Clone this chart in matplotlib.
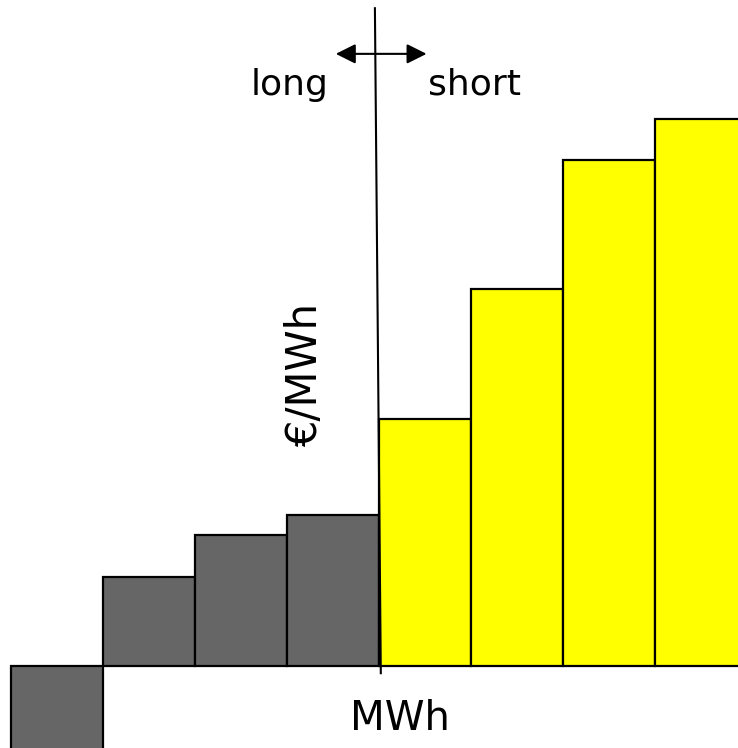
import matplotlib.pyplot as plt

# merit order style steps: long side (grey) and short side (yellow)
long_prices = [-10, 8.9, 13.1, 15.1]
short_prices = [24.7, 37.7, 50.6, 54.7]
grey = '#666666'
yellow = '#ffff00'

fig = plt.figure(figsize=(7.38, 7.48), dpi=100)
ax = fig.add_axes([0, 0, 1, 1])

n_long = len(long_prices)
x_long = [i + 0.5 for i in range(n_long)]
x_short = [n_long + i + 0.5 for i in range(len(short_prices))]

ax.bar(x_long, long_prices, width=1.0, color=grey, edgecolor='black', linewidth=1.6)
ax.bar(x_short, short_prices, width=1.0, color=yellow, edgecolor='black', linewidth=1.6)

ax.set_xlim(-0.12, 7.9)
ax.set_ylim(-8.2, 66.6)
ax.axis('off')

# position line (slightly slanted as in the sketch)
ax.plot([0.508, 0.516], [0.989, 0.100], transform=ax.transAxes,
        color='black', linewidth=1.5, clip_on=False)

# long / short arrow
ax.annotate('', xy=(0.455, 0.928), xytext=(0.578, 0.928), xycoords='axes fraction',
            arrowprops=dict(arrowstyle='<|-|>', color='black', lw=1.5,
                            mutation_scale=30, shrinkA=0, shrinkB=0))

ax.text(0.392, 0.873, 'long', transform=ax.transAxes, fontsize=26,
        ha='center', va='baseline')
ax.text(0.643, 0.873, 'short', transform=ax.transAxes, fontsize=26,
        ha='center', va='baseline')
ax.text(0.413, 0.498, '€/MWh', transform=ax.transAxes, fontsize=30,
        ha='center', va='center', rotation=90)
ax.text(0.542, 0.024, 'MWh', transform=ax.transAxes, fontsize=29,
        ha='center', va='baseline')

fig.savefig('out.png', dpi=100)
